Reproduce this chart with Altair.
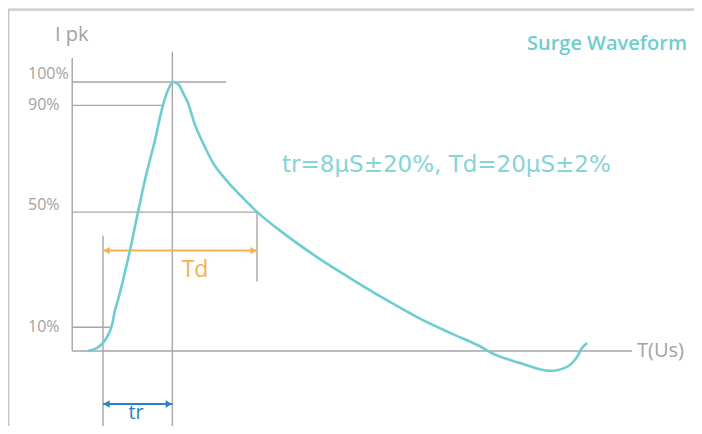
import altair as alt
import pandas as pd

# ---- data (time in microseconds, current in % of peak) ----
curve_t = [-1.95, -0.78, 0.0, 0.65, 1.17, 1.56, 1.95, 2.86, 3.51, 4.55, 5.45, 6.75, 7.79,
           8.44, 9.1, 9.74, 10.52, 11.04, 11.95, 12.99, 14.29, 15.97, 17.79, 20.0, 23.38,
           27.79, 32.08, 36.36, 40.78, 45.06, 49.35, 50.26, 54.16, 58.05, 60.26, 61.56,
           62.21, 62.86]
curve_pct = [0.0, 1.1, 3.0, 5.9, 9.7, 15.2, 19.0, 29.4, 37.5, 51.7, 63.6, 78.4, 91.4,
             97.0, 100.0, 99.3, 95.2, 92.2, 84.0, 77.3, 69.9, 63.6, 58.0, 51.7, 43.9,
             34.9, 27.1, 19.7, 12.6, 6.7, 1.1, -0.4, -4.5, -7.4, -5.9, -2.2, 1.1, 3.0]

# frame (top and left border)
frame_x = [-12.34, -12.25]
frame_x2 = [76.75, -12.25]
frame_y = [126.8, 126.8]
frame_y2 = [126.8, -27.9]

# guide lines: axes, level lines, time markers
guide_x = [-4.0, -4.0, 9.0, -4.0, -4.0, -4.0, -4.0, 0.0, 20.0]
guide_x2 = [-4.0, 68.7, 9.0, 16.0, 7.8, 20.0, 0.9, 0.0, 20.0]
guide_y = [0.0, 0.0, -28.0, 100.0, 91.3, 51.6, 8.8, -28.0, 25.8]
guide_y2 = [108.9, 0.0, 111.2, 100.0, 91.3, 51.6, 8.8, 42.8, 51.6]

# Td arrow and tr arrow
td_arrow = {"x": 0.0, "x2": 20.0, "y": 37.3}
tr_arrow = {"x": 0.0, "x2": 9.0, "y": -19.7}
head_offset = 0.45

# level labels
level_labels = ["100%", "90%", "50%", "10%"]
level_label_y = [103.0, 91.4, 54.3, 8.9]
level_label_x = -9.74

X_DOMAIN = [-12.34, 76.75]
Y_DOMAIN = [-27.9, 127.5]

xs = alt.Scale(domain=X_DOMAIN, nice=False, zero=False)
ys = alt.Scale(domain=Y_DOMAIN, nice=False, zero=False)

GRAY_TEXT = "#a2a2a2"
GRAY_LINE = "#a6a6a6"
TEAL = "#6fcdcf"
ORANGE = "#f8b04a"
BLUE = "#2a82cb"
FONT = "Open Sans"


def rule_layer(df, color, width):
    return alt.Chart(df).mark_rule(color=color, strokeWidth=width).encode(
        x=alt.X("x:Q", scale=xs, axis=None),
        x2="x2:Q",
        y=alt.Y("y:Q", scale=ys, axis=None),
        y2="y2:Q",
    )


def text_layer(txt, x, y, size, color, align="left", weight="normal",
               font=FONT, baseline="middle"):
    df = pd.DataFrame({"x": [x], "y": [y], "t": [txt]})
    return alt.Chart(df).mark_text(
        align=align, baseline=baseline, fontSize=size, color=color,
        font=font, fontWeight=weight
    ).encode(
        x=alt.X("x:Q", scale=xs, axis=None),
        y=alt.Y("y:Q", scale=ys, axis=None),
        text="t:N",
    )


frame = rule_layer(pd.DataFrame({"x": frame_x, "x2": frame_x2, "y": frame_y, "y2": frame_y2}),
                   "#c4c4c4", 1.5)
guides = rule_layer(pd.DataFrame({"x": guide_x, "x2": guide_x2, "y": guide_y, "y2": guide_y2}),
                    GRAY_LINE, 1.4)


def arrow_layers(a, color):
    line = rule_layer(pd.DataFrame({"x": [a["x"]], "x2": [a["x2"]], "y": [a["y"]], "y2": [a["y"]]}),
                      color, 2)
    heads_df = pd.DataFrame({
        "x": [a["x"] + head_offset, a["x2"] - head_offset],
        "y": [a["y"], a["y"]],
        "shape": ["triangle-left", "triangle-right"],
    })
    heads = alt.Chart(heads_df).mark_point(filled=True, color=color, size=55, opacity=1).encode(
        x=alt.X("x:Q", scale=xs, axis=None),
        y=alt.Y("y:Q", scale=ys, axis=None),
        shape=alt.Shape("shape:N", scale=None),
    )
    return line + heads


curve = alt.Chart(pd.DataFrame({"t": curve_t, "p": curve_pct})).mark_line(
    color=TEAL, strokeWidth=2.6, interpolate="monotone"
).encode(
    x=alt.X("t:Q", scale=xs, axis=None),
    y=alt.Y("p:Q", scale=ys, axis=None),
)

levels = alt.Chart(pd.DataFrame({"x": [level_label_x] * 4, "y": level_label_y, "t": level_labels})).mark_text(
    align="left", baseline="middle", fontSize=16, color=GRAY_TEXT, font=FONT
).encode(
    x=alt.X("x:Q", scale=xs, axis=None),
    y=alt.Y("y:Q", scale=ys, axis=None),
    text="t:N",
)

texts = [
    text_layer("I pk", -6.23, 117.5, 20, GRAY_TEXT),
    text_layer("T(Us)", 69.35, 0.0, 20, GRAY_TEXT),
    text_layer("Surge Waveform", 75.84, 114.1, 20, TEAL, align="right", weight=600),
    text_layer("tr=8μS±20%, Td=20μS±2%", 23.25, 69.1, 23, "#86d3d8", font="DejaVu Sans"),
    text_layer("Td", 11.95, 30.1, 23, ORANGE, align="center"),
    text_layer("tr", 4.29, -25.3, 20, BLUE, align="center", baseline="alphabetic"),
]

chart = alt.layer(
    frame, guides, arrow_layers(td_arrow, ORANGE), arrow_layers(tr_arrow, BLUE),
    curve, levels, *texts
).properties(
    width=686, height=418, padding=0, autosize=alt.AutoSizeParams(type="none")
).configure_view(stroke=None).configure(background="white")

chart.save("out.html", embed_options={"renderer": "svg", "actions": False})
